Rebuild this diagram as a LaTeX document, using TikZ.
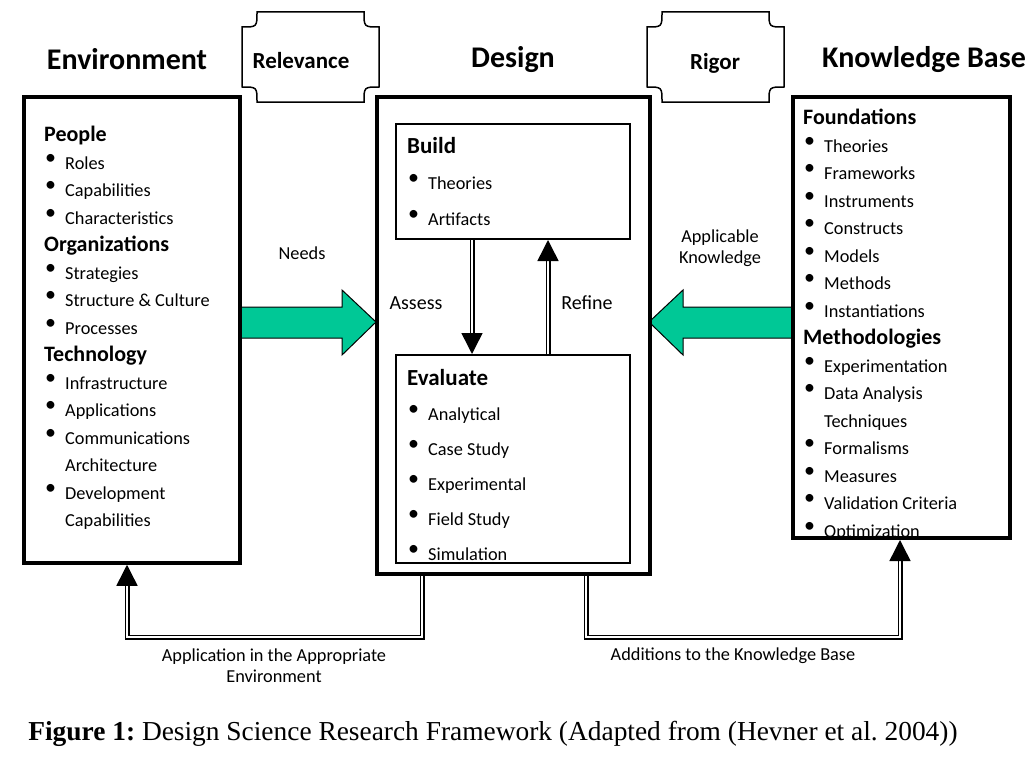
\documentclass[tikz,border=0pt]{standalone}
\usepackage{fontspec}
\setmainfont{Carlito}
\newfontfamily\capfont{Liberation Serif}
\usetikzlibrary{arrows.meta,positioning}
\definecolor{arrowgreen}{RGB}{0,200,150}
\newcommand{\bitem}[1]{\makebox[21pt][l]{\hspace{1pt}\raisebox{5pt}{\fontsize{22}{22}\selectfont\textbullet}}#1}
\newcommand{\nitem}[1]{\hspace*{21pt}#1}
\newcommand{\head}[1]{{\fontsize{22}{27.5}\selectfont\bfseries #1}}
\frenchspacing

\begin{document}
\begin{tikzpicture}[x=1pt,y=-1pt,
    outbox/.style={draw,line width=3.5pt,inner sep=0pt},
    inbox/.style={draw,line width=2pt,inner sep=0pt},
    title/.style={font=\fontsize{30}{33}\selectfont\bfseries},
    plaque/.style={font=\fontsize{23}{26}\selectfont\bfseries},
    lbl/.style={font=\fontsize{18.3}{21}\selectfont,align=center},
    lst/.style={anchor=north west,inner sep=0pt,align=left},
    dbl/.style={double,double distance=2pt,line width=1.5pt},
    tip/.style={-{Triangle[length=21pt,width=21pt]}}]
\useasboundingbox (0,0) rectangle (1034,760);

% green arrows
\filldraw[fill=arrowgreen,draw=black,line width=1pt] (240,307) -- (342,307) -- (342,290) -- (376,322) -- (342,355) -- (342,338) -- (240,338) -- cycle;
\filldraw[fill=arrowgreen,draw=black,line width=1pt] (793,307) -- (683,307) -- (683,290) -- (649,322) -- (683,355) -- (683,338) -- (793,338) -- cycle;

% boxes
\node[outbox,minimum width=216,minimum height=466] (env) at (132,330) {};
\node[outbox,line width=4pt,minimum width=273,minimum height=477] (design) at (513.5,335.5) {};
\node[inbox,minimum width=234,minimum height=115] (build) at (513,181.5) {};
\node[inbox,minimum width=234,minimum height=208] (eval) at (513,459) {};
\node[outbox,line width=4pt,minimum width=217,minimum height=441] (kb) at (901.5,317.5) {};

% titles
\node[title] (envtitle) at (127,59) {Environment};
\node[title] (destitle) at (513,60) {Design};
\node[title] (kbtitle) at (924,60) {Knowledge Base};

% relevance and rigor
\draw[line width=1.5pt] (257,12) -- (364,12) .. controls (364,27) .. (379,27) -- (379,87) .. controls (364,87) .. (364,102) -- (257,102) .. controls (257,87) .. (242,87) -- (242,27) .. controls (257,27) .. (257,12) -- cycle;
\draw[line width=1.5pt] (662,12) -- (769,12) .. controls (769,27) .. (784,27) -- (784,87) .. controls (769,87) .. (769,102) -- (662,102) .. controls (662,87) .. (647,87) -- (647,27) .. controls (662,27) .. (662,12) -- cycle;
\node[plaque] (rel) at (301,61) {Relevance};
\node[plaque] (rig) at (715,63) {Rigor};

% lists
\node[lst,font=\fontsize{18.3}{27.5}\selectfont] (envlist) at (44,126) {\head{People}\\
\bitem{Roles}\\ \bitem{Capabilities}\\ \bitem{Characteristics}\\
\head{Organizations}\\
\bitem{Strategies}\\ \bitem{Structure \& Culture}\\ \bitem{Processes}\\
\head{Technology}\\
\bitem{Infrastructure}\\ \bitem{Applications}\\ \bitem{Communications}\\ \nitem{Architecture}\\
\bitem{Development}\\ \nitem{Capabilities}};

\node[lst,font=\fontsize{18.3}{27.5}\selectfont] (kblist) at (803,109) {\head{Foundations}\\
\bitem{Theories}\\ \bitem{Frameworks}\\ \bitem{Instruments}\\ \bitem{Constructs}\\
\bitem{Models}\\ \bitem{Methods}\\ \bitem{Instantiations}\\
\head{Methodologies}\\
\bitem{Experimentation}\\ \bitem{Data Analysis}\\ \nitem{Techniques}\\ \bitem{Formalisms}\\
\bitem{Measures}\\ \bitem{Validation Criteria}\\ \bitem{Optimization}};

\node[lst,font=\fontsize{18.3}{36}\selectfont] (buildlist) at (407,137) {{\fontsize{23}{36}\selectfont\bfseries Build}\\
\bitem{Theories}\\ \bitem{Artifacts}};

\node[lst,font=\fontsize{18.3}{35}\selectfont] (evallist) at (407,369) {{\fontsize{23}{35}\selectfont\bfseries Evaluate}\\
\bitem{Analytical}\\ \bitem{Case Study}\\ \bitem{Experimental}\\ \bitem{Field Study}\\ \bitem{Simulation}};

% assess / refine
\coordinate (asx) at (472,0);
\coordinate (rfx) at (548,0);
\draw[dbl,tip] (build.south -| asx) -- (eval.north -| asx);
\draw[dbl,tip] (eval.north -| rfx) -- (build.south -| rfx);
\node[font=\fontsize{20}{24}\selectfont] (assess) at (416,303) {Assess};
\node[font=\fontsize{20}{24}\selectfont] (refine) at (587,303) {Refine};

% labels of the green arrows
\node[lbl] (needs) at (302,253) {Needs};
\node[lbl] (applk) at (720,248) {Applicable\\Knowledge};

% feedback connectors
\coordinate (dl) at (422,637);
\coordinate (al) at (127,637);
\coordinate (dr) at (586,637);
\coordinate (ar) at (900,637);
\draw[dbl,tip] (design.south -| dl) -- (dl) -- (al) -- (env.south -| al);
\draw[dbl,tip] (design.south -| dr) -- (dr) -- (ar) -- (kb.south -| ar);
\node[lbl] (appl) at (274,666) {Application in the Appropriate\\Environment};
\node[lbl] (addk) at (733,656) {Additions to the Knowledge Base};

% caption
\node[font=\capfont\fontsize{27.4}{30}\selectfont] (cap) at (493,734) {\textbf{Figure 1:} Design Science Research Framework (Adapted from (Hevner et al. 2004))};
\end{tikzpicture}
\end{document}
